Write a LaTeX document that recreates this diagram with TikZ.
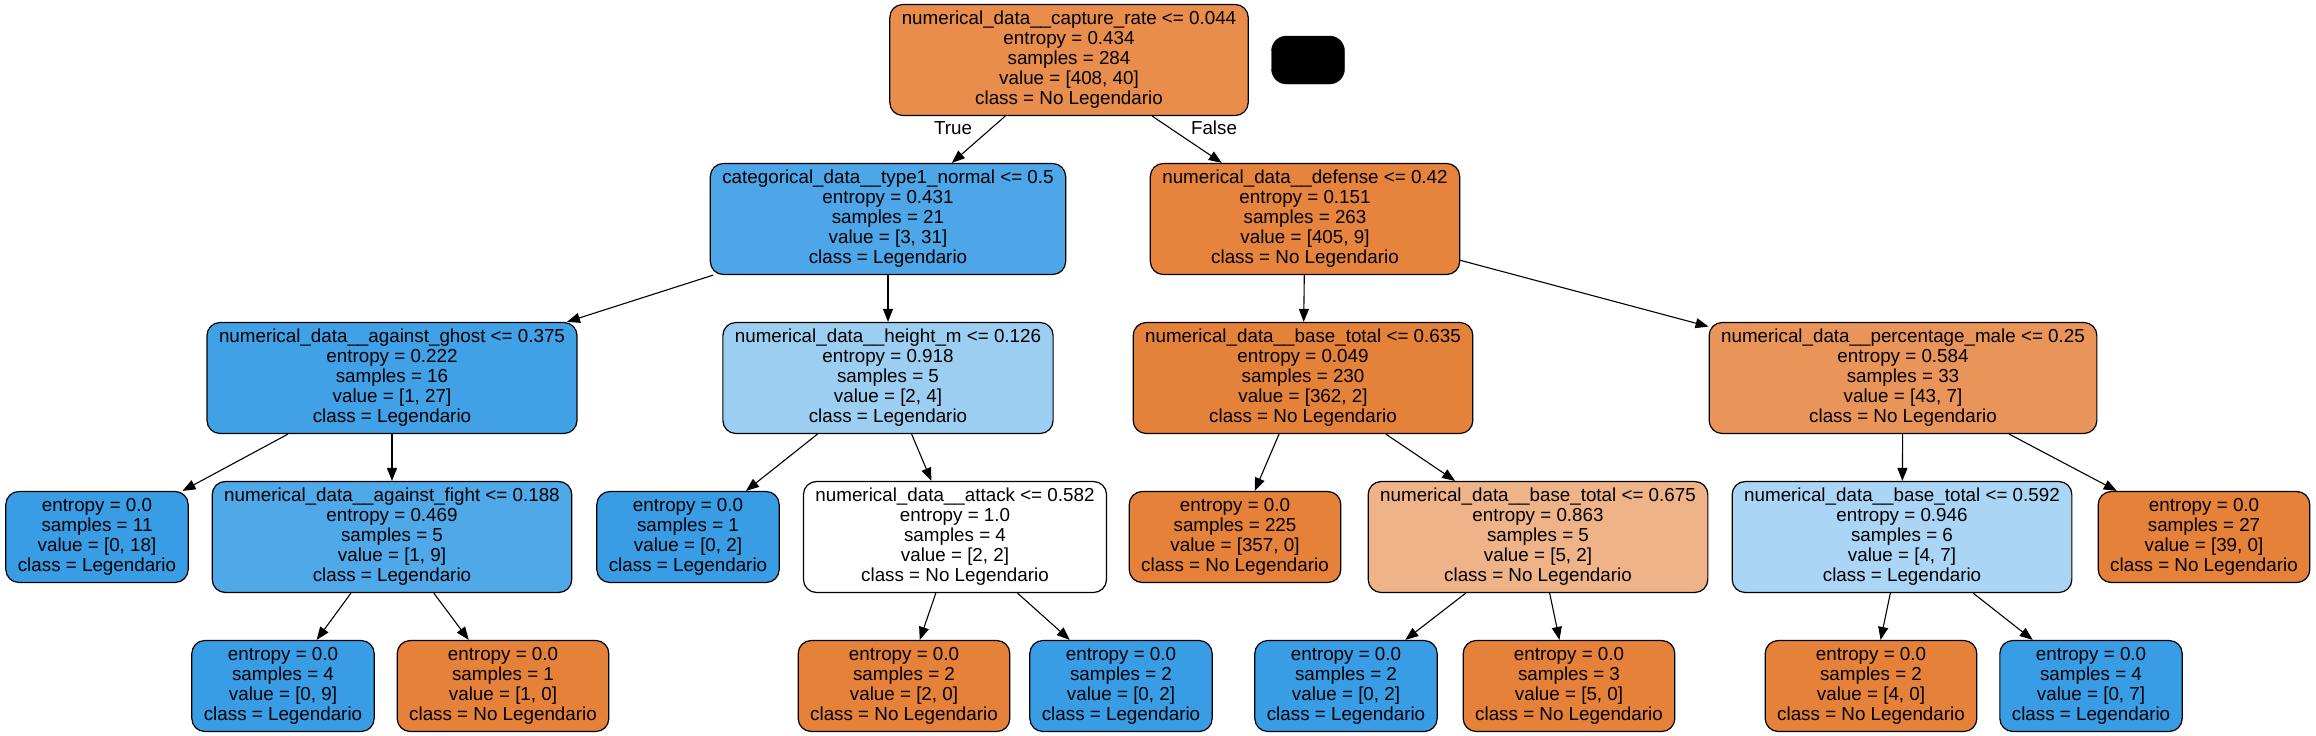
\documentclass[tikz,border=0pt]{standalone}
\usepackage{fontspec}
\setmainfont{Liberation Sans}
\usetikzlibrary{arrows.meta}

\definecolor{orangeA}{HTML}{E88D4C}
\definecolor{orangeB}{HTML}{E6843D}
\definecolor{orangeC}{HTML}{E5823A}
\definecolor{orangeD}{HTML}{E99559}
\definecolor{orangeE}{HTML}{EFB388}
\definecolor{orangeLeaf}{HTML}{E58139}
\definecolor{blueA}{HTML}{4CA6E8}
\definecolor{blueB}{HTML}{40A1E6}
\definecolor{blueC}{HTML}{9CCEF2}
\definecolor{blueD}{HTML}{4FA8E8}
\definecolor{blueE}{HTML}{AAD5F4}
\definecolor{blueLeaf}{HTML}{399DE5}

\tikzset{
  treenode/.style={draw=black, line width=1.2pt, rounded corners=13pt,
    align=center, inner xsep=12pt, inner ysep=2pt,
    font=\fontsize{18.8}{20}\selectfont},
  split/.style={treenode, minimum height=111pt},
  leaf/.style={treenode, minimum height=91pt},
  branch/.style={line width=1.1pt, -{Triangle[length=13pt,width=10pt]}},
  branchlabel/.style={font=\fontsize{18.8}{20}\selectfont}
}

\begin{document}
\begin{tikzpicture}[x=1pt, y=-1pt]
  \useasboundingbox (0,0) rectangle (2316,736);
  % Root
  \node[split, fill=orangeA] (root) at (1069,60) {numerical\_data\_\_capture\_rate <= 0.044\\entropy = 0.434\\samples = 284\\value = [408, 40]\\class = No Legendario};
  \node[draw=black, fill=black, rounded corners=15pt, minimum width=73pt, minimum height=48pt] (blank) at (1308,60) {};
  % Level 1
  \node[split, fill=blueA] (type) at (888,219) {categorical\_data\_\_type1\_normal <= 0.5\\entropy = 0.431\\samples = 21\\value = [3, 31]\\class = Legendario};
  \node[split, fill=orangeB] (defense) at (1305,219) {numerical\_data\_\_defense <= 0.42\\entropy = 0.151\\samples = 263\\value = [405, 9]\\class = No Legendario};
  % Level 2
  \node[split, fill=blueB] (ghost) at (392,378) {numerical\_data\_\_against\_ghost <= 0.375\\entropy = 0.222\\samples = 16\\value = [1, 27]\\class = Legendario};
  \node[split, fill=blueC] (height) at (888,378) {numerical\_data\_\_height\_m <= 0.126\\entropy = 0.918\\samples = 5\\value = [2, 4]\\class = Legendario};
  \node[split, fill=orangeC] (total) at (1303,378) {numerical\_data\_\_base\_total <= 0.635\\entropy = 0.049\\samples = 230\\value = [362, 2]\\class = No Legendario};
  \node[split, fill=orangeD] (male) at (1903,378) {numerical\_data\_\_percentage\_male <= 0.25\\entropy = 0.584\\samples = 33\\value = [43, 7]\\class = No Legendario};
  % Level 3
  \node[leaf, fill=blueLeaf] (leafA) at (97,537) {entropy = 0.0\\samples = 11\\value = [0, 18]\\class = Legendario};
  \node[split, fill=blueD] (fight) at (392,537) {numerical\_data\_\_against\_fight <= 0.188\\entropy = 0.469\\samples = 5\\value = [1, 9]\\class = Legendario};
  \node[leaf, fill=blueLeaf] (leafB) at (688,537) {entropy = 0.0\\samples = 1\\value = [0, 2]\\class = Legendario};
  \node[split, fill=white] (attack) at (955,537) {numerical\_data\_\_attack <= 0.582\\entropy = 1.0\\samples = 4\\value = [2, 2]\\class = No Legendario};
  \node[leaf, fill=orangeLeaf] (leafC) at (1235,537) {entropy = 0.0\\samples = 225\\value = [357, 0]\\class = No Legendario};
  \node[split, fill=orangeE] (totalB) at (1538,537) {numerical\_data\_\_base\_total <= 0.675\\entropy = 0.863\\samples = 5\\value = [5, 2]\\class = No Legendario};
  \node[split, fill=blueE] (totalC) at (1902,537) {numerical\_data\_\_base\_total <= 0.592\\entropy = 0.946\\samples = 6\\value = [4, 7]\\class = Legendario};
  \node[leaf, fill=orangeLeaf] (leafD) at (2204,537) {entropy = 0.0\\samples = 27\\value = [39, 0]\\class = No Legendario};
  % Level 4
  \node[leaf, fill=blueLeaf] (leafE) at (283,686) {entropy = 0.0\\samples = 4\\value = [0, 9]\\class = Legendario};
  \node[leaf, fill=orangeLeaf] (leafF) at (503,686) {entropy = 0.0\\samples = 1\\value = [1, 0]\\class = No Legendario};
  \node[leaf, fill=orangeLeaf] (leafG) at (904,686) {entropy = 0.0\\samples = 2\\value = [2, 0]\\class = No Legendario};
  \node[leaf, fill=blueLeaf] (leafH) at (1121,686) {entropy = 0.0\\samples = 2\\value = [0, 2]\\class = Legendario};
  \node[leaf, fill=blueLeaf] (leafI) at (1346,686) {entropy = 0.0\\samples = 2\\value = [0, 2]\\class = Legendario};
  \node[leaf, fill=orangeLeaf] (leafJ) at (1569,686) {entropy = 0.0\\samples = 3\\value = [5, 0]\\class = No Legendario};
  \node[leaf, fill=orangeLeaf] (leafK) at (1871,686) {entropy = 0.0\\samples = 2\\value = [4, 0]\\class = No Legendario};
  \node[leaf, fill=blueLeaf] (leafL) at (2091,686) {entropy = 0.0\\samples = 4\\value = [0, 7]\\class = Legendario};
  % Branches
  \draw[branch] (root) -- (type);
  \draw[branch] (root) -- (defense);
  \node[branchlabel] (truelabel) at (953,128) {True};
  \node[branchlabel] (falselabel) at (1214,128) {False};
  \draw[branch] (type) -- (ghost);
  \draw[branch] (type) -- (height);
  \draw[branch] (defense) -- (total);
  \draw[branch] (defense) -- (male);
  \draw[branch] (ghost) -- (leafA);
  \draw[branch] (ghost) -- (fight);
  \draw[branch] (height) -- (leafB);
  \draw[branch] (height) -- (attack);
  \draw[branch] (total) -- (leafC);
  \draw[branch] (total) -- (totalB);
  \draw[branch] (male) -- (totalC);
  \draw[branch] (male) -- (leafD);
  \draw[branch] (fight) -- (leafE);
  \draw[branch] (fight) -- (leafF);
  \draw[branch] (attack) -- (leafG);
  \draw[branch] (attack) -- (leafH);
  \draw[branch] (totalB) -- (leafI);
  \draw[branch] (totalB) -- (leafJ);
  \draw[branch] (totalC) -- (leafK);
  \draw[branch] (totalC) -- (leafL);
\end{tikzpicture}
\end{document}
